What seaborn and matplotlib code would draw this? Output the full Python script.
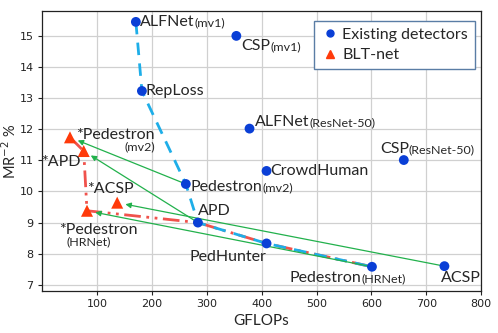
import matplotlib
matplotlib.use("agg")
import matplotlib.pyplot as plt
import seaborn as sns
import pandas as pd
from matplotlib.lines import Line2D

# existing detectors
det_names = ["ALFNet", "CSP", "RepLoss", "ALFNet", "CSP", "CrowdHuman",
             "Pedestron", "APD", "PedHunter", "Pedestron", "ACSP"]
det_subs = ["(mv1)", "(mv1)", "", "(ResNet-50)", "(ResNet-50)", "",
            "(mv2)", "", "", "(HRNet)", ""]
det_x = [171, 354, 182, 378, 659, 409, 262, 284, 409, 601, 733]
det_y = [15.45, 15.0, 13.23, 12.02, 11.01, 10.66, 10.24, 9.0, 8.33, 7.58, 7.6]

# BLT-net versions
blt_names = ["*Pedestron", "*APD", "*Pedestron", "*ACSP"]
blt_subs = ["(mv2)", "", "(HRNet)", ""]
blt_x = [51, 76, 82, 137]
blt_y = [11.74, 11.3, 9.38, 9.64]

# fronts
front_det = [0, 2, 6, 7, 8, 9]
front_blt_x = [51, 76, 82, 284, 409, 601]
front_blt_y = [11.74, 11.3, 9.38, 9.0, 8.33, 7.58]

# arrows: existing idx -> blt idx
arrow_pairs = [(6, 0), (7, 1), (9, 2), (10, 3)]

BLUE = "#0a3fd6"
RED = "#ff3a0a"
LBLUE = "#1eaee8"
LRED = "#f0524c"
GREEN = "#22b14c"

sns.set_style("whitegrid")
plt.rcParams["font.family"] = ["DejaVu Sans"]
LFONT = ["Lato", "DejaVu Sans"]

fig = plt.figure(figsize=(4.98, 3.33), dpi=100)
ax = fig.add_axes([0.0843, 0.126, 0.882, 0.841])

det = pd.DataFrame({"x": det_x, "y": det_y})
blt = pd.DataFrame({"x": blt_x, "y": blt_y})

fd = det.iloc[front_det]
ax.plot(front_blt_x, front_blt_y, color=LRED, lw=2, ls=(0, (6, 2, 1, 2, 1, 2)), zorder=2)
sns.lineplot(data=fd, x="x", y="y", sort=False, ax=ax, color=LBLUE, lw=2,
             linestyle=(0, (4.5, 3)), zorder=3)

for i, j in arrow_pairs:
    ax.annotate("", xy=(blt_x[j], blt_y[j]), xytext=(det_x[i], det_y[i]),
                arrowprops=dict(arrowstyle="-|>", color=GREEN, lw=0.9,
                                shrinkA=0, shrinkB=6, mutation_scale=8),
                zorder=4)

sns.scatterplot(data=det, x="x", y="y", ax=ax, color=BLUE, s=50, marker="o",
                edgecolor="none", zorder=5)
sns.scatterplot(data=blt, x="x", y="y", ax=ax, color=RED, s=75, marker="^",
                edgecolor="none", zorder=5)


def label(x, y, main, sub, dx, dy, ha="left", below=None, fs=11.5):
    t = ax.annotate(main, (x, y), xytext=(dx, dy), textcoords="offset pixels",
                    ha=ha, va="center", fontsize=fs, family=LFONT, zorder=6)
    if sub:
        if below is None:
            ax.annotate(sub, xy=(1, 0.02), xycoords=t, ha="left", va="bottom",
                        fontsize=fs * 0.78, family=LFONT, zorder=6)
        else:
            ax.annotate(sub, xy=(below, 0.06), xycoords=t, ha="left", va="top",
                        fontsize=fs * 0.78, family=LFONT, zorder=6)


det_off = [(4, 0), (5, -10), (4, 0), (5, 7), (-24, 11), (4, 0),
           (5, -3), (0, 12), (0, -14), (-82, -11), (-3, -12)]
det_ha = ["left"] * 8 + ["right", "left", "left"]
for k in range(len(det_names)):
    label(det_x[k], det_y[k], det_names[k], det_subs[k],
          det_off[k][0], det_off[k][1], det_ha[k])

label(blt_x[0], blt_y[0], blt_names[0], blt_subs[0], 6, 2, below=0.62)
label(blt_x[1], blt_y[1], blt_names[1], blt_subs[1], -3, -11, ha="right")
label(blt_x[2], blt_y[2], blt_names[2], blt_subs[2], -28, -19, below=0.1)
label(blt_x[3], blt_y[3], blt_names[3], blt_subs[3], -30, 14)

ax.set_xlim(0, 800)
ax.set_ylim(6.8, 15.8)
ax.set_xticks(range(100, 801, 100))
ax.set_yticks(range(7, 16))
ax.tick_params(labelsize=8, length=3, pad=3, colors="#222222", left=True, bottom=True)
ax.grid(True, color="#d0d0d0", lw=0.9)
for s in ax.spines.values():
    s.set_color("#222222")
    s.set_linewidth(0.9)
ax.set_xlabel("GFLOPs", fontsize=11, family=LFONT, labelpad=3)
ax.set_ylabel("MR$^{-2}$ %", fontsize=10.5, family=LFONT)
ax.yaxis.set_label_coords(-0.052, 0.5)

handles = [Line2D([], [], marker="o", ls="none", color=BLUE, markersize=5),
           Line2D([], [], marker="^", ls="none", color=RED, markersize=6)]
leg = ax.legend(handles, ["Existing detectors", "BLT-net"], loc="upper right",
                bbox_to_anchor=(0.992, 0.975), fancybox=False, framealpha=1,
                edgecolor="#5a7da5", prop={"family": LFONT, "size": 11.5},
                handletextpad=0.2, borderpad=0.4, labelspacing=0.4,
                handlelength=1.2, borderaxespad=0.2)
leg.get_frame().set_linewidth(1.0)

fig.savefig("out.png", dpi=100)
